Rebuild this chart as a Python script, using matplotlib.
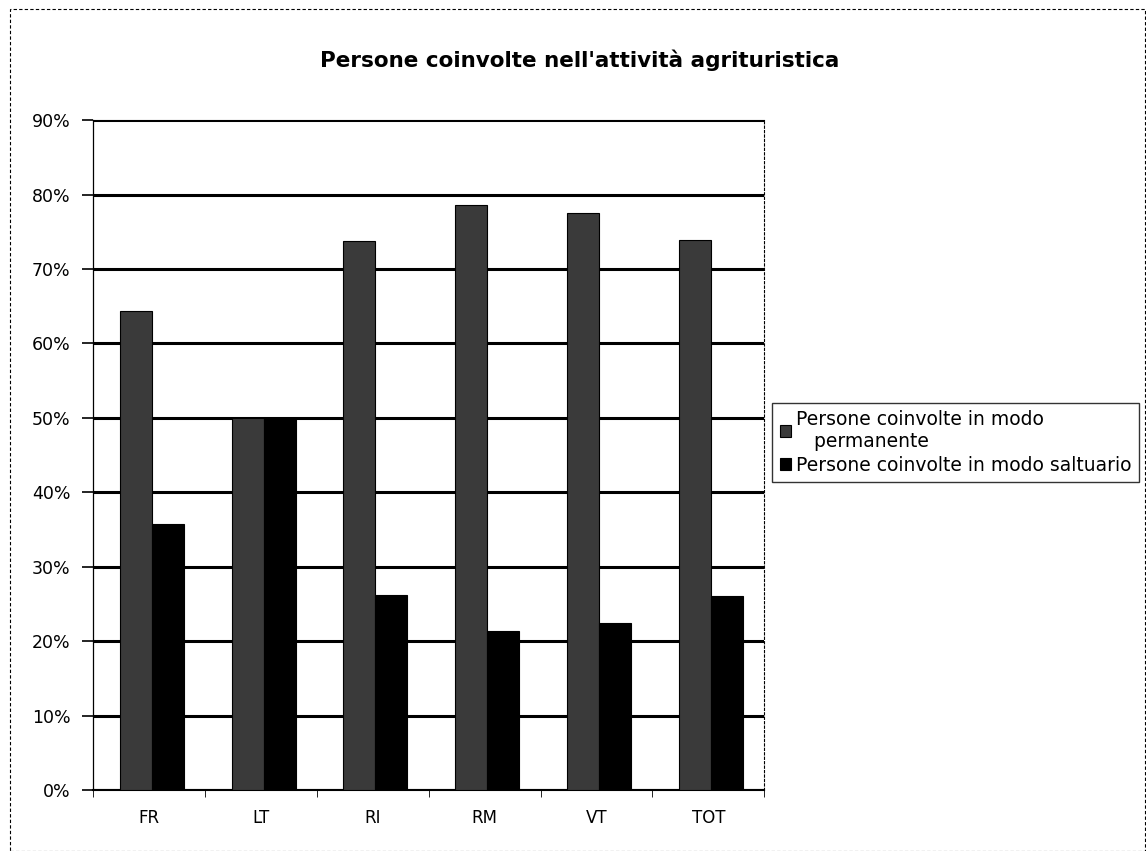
import matplotlib.pyplot as plt
import numpy as np
from matplotlib.patches import Rectangle
from matplotlib.ticker import MultipleLocator, PercentFormatter

# Data (percent)
categories = ['FR', 'LT', 'RI', 'RM', 'VT', 'TOT']
permanente = [64.3, 50.0, 73.8, 78.6, 77.5, 73.9]
saltuario = [35.7, 50.0, 26.2, 21.4, 22.5, 26.1]
series_labels = ['Persone coinvolte in modo\n   permanente',
                 'Persone coinvolte in modo saltuario']

plt.rcParams['font.family'] = 'DejaVu Sans'

fig = plt.figure(figsize=(11.46, 8.51), dpi=100)
ax = fig.add_axes([0.081, 0.0717, 0.586, 0.787])

x = np.arange(len(categories))
w = 0.286
b1 = ax.bar(x - w/2 + 0.025, permanente, w, color='#3a3a3a', edgecolor='black',
            linewidth=0.8, label=series_labels[0], zorder=3)
b2 = ax.bar(x + w/2 + 0.025, saltuario, w, color='black', edgecolor='black',
            linewidth=0.8, label=series_labels[1], zorder=3)

ax.set_ylim(0, 90)
ax.set_xlim(-0.5, len(categories) - 0.5)
ax.yaxis.set_major_locator(MultipleLocator(10))
ax.yaxis.set_major_formatter(PercentFormatter(decimals=0))
ax.grid(axis='y', color='black', linewidth=2.2, zorder=1)
ax.set_xticks(x)
ax.set_xticklabels(categories)
ax.set_xticks(np.arange(-0.5, len(categories)), minor=True)
ax.tick_params(axis='x', which='major', length=0, pad=14, labelsize=12)
ax.tick_params(axis='x', which='minor', length=5, direction='out')
ax.tick_params(axis='y', length=8, width=1.2, direction='out', labelsize=12.5, pad=8)

ax.spines['right'].set_linestyle((0, (2, 2)))
ax.spines['right'].set_linewidth(0.8)
ax.spines['top'].set_linewidth(0.8)
ax.spines['left'].set_linestyle((0, (4, 1)))
ax.spines['left'].set_linewidth(0.9)
ax.spines['bottom'].set_linewidth(1.5)

fig.suptitle("Persone coinvolte nell'attività agrituristica", x=0.506, y=0.942,
             fontsize=15.5, fontweight='bold')

leg = fig.legend(handles=[b1, b2], loc='upper left',
                 bbox_to_anchor=(0.674, 0.527), fontsize=13.5,
                 frameon=True, fancybox=False, edgecolor='black',
                 handlelength=0.6, handleheight=0.6, handletextpad=0.25,
                 labelspacing=0.25, borderpad=0.4, borderaxespad=0)
leg.get_frame().set_linewidth(1.0)

# outer chart border
fig.patches.append(Rectangle((0.009, 0.0), 0.99, 0.99, transform=fig.transFigure,
                             fill=False, edgecolor='black', linewidth=0.8,
                             linestyle=(0, (3, 2))))

fig.savefig('out.png', dpi=100)
